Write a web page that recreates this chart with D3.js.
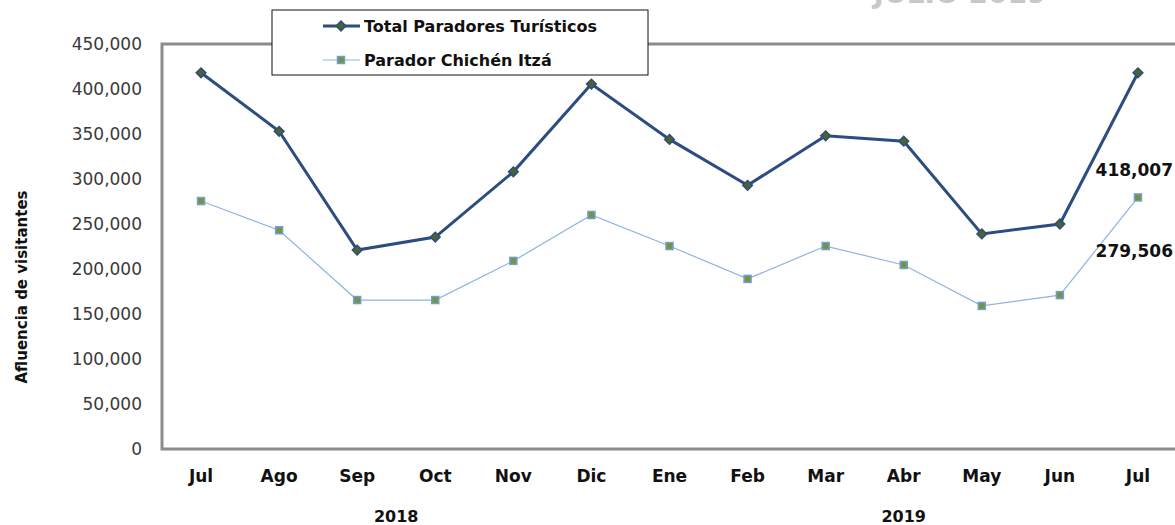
<!DOCTYPE html>
<html>
<head>
<meta charset="utf-8">
<script src="https://cdn.jsdelivr.net/npm/d3@7"></script>
<style>
  body { margin: 0; background: #fff; }
  text { font-family: "DejaVu Sans", sans-serif; }
</style>
</head>
<body>
<div class="chart"></div>
<script>
const months = ["Jul", "Ago", "Sep", "Oct", "Nov", "Dic", "Ene", "Feb", "Mar", "Abr", "May", "Jun", "Jul"];
const years = [{ label: "2018", from: 0, to: 5 }, { label: "2019", from: 6, to: 12 }];
const totalParadores = [418007, 353000, 221000, 235500, 308000, 405500, 344000, 293000, 348000, 342000, 239000, 250000, 418007];
const chichenItza = [275500, 243000, 165500, 165500, 209000, 260000, 225500, 189000, 225500, 204500, 159000, 171000, 279506];
const yTicks = [0, 50000, 100000, 150000, 200000, 250000, 300000, 350000, 400000, 450000];

const w = 1175, h = 525;
const plotLeft = 162, plotTop = 44, plotBottom = 449, plotRight = 1177;

const svg = d3.select(".chart")
    .append("svg")
    .attr("width", w)
    .attr("height", h);

const x = d3.scaleBand()
    .domain(d3.range(months.length))
    .range([plotLeft, plotRight]);

const y = d3.scaleLinear()
    .domain([0, 450000])
    .range([plotBottom, plotTop]);

const cx = i => x(i) + x.bandwidth() / 2;
const fmt = d3.format(",");

// title, mostly above the visible area
svg.append("text")
    .attr("x", 960).attr("y", 3)
    .attr("text-anchor", "middle")
    .style("font-size", "28px").style("font-weight", "bold")
    .style("fill", "#c8c8c8")
    .text("JULIO 2019");

// plot frame
svg.append("rect")
    .attr("x", plotLeft).attr("y", plotTop)
    .attr("width", plotRight - plotLeft).attr("height", plotBottom - plotTop)
    .style("fill", "none")
    .style("stroke", "#8c8c8c")
    .style("stroke-width", 3);

// y axis labels
const yAxis = d3.axisLeft(y).tickValues(yTicks).tickFormat(fmt).tickSize(0).tickPadding(20);
const ya = svg.append("g").attr("transform", `translate(${plotLeft},0)`).call(yAxis);
ya.select(".domain").remove();
ya.selectAll("text")
    .style("font-size", "17px")
    .style("fill", "#3a3a3a")
    .style("font-family", "'DejaVu Sans', sans-serif");

// month labels
const xAxis = d3.axisBottom(x).tickFormat(i => months[i]).tickSize(0).tickPadding(21);
const xa = svg.append("g").attr("transform", `translate(0,${plotBottom})`).call(xAxis);
xa.select(".domain").remove();
xa.selectAll("text")
    .style("font-size", "17px")
    .style("font-weight", "bold")
    .style("fill", "#111")
    .style("font-family", "'DejaVu Sans', sans-serif");

// year labels
svg.selectAll(".year")
    .data(years)
    .enter().append("text")
    .attr("class", "year")
    .attr("x", d => (cx(d.from) + cx(d.to)) / 2)
    .attr("y", 522)
    .attr("text-anchor", "middle")
    .style("font-size", "16px").style("font-weight", "bold").style("fill", "#111")
    .text(d => d.label);

// y axis title
svg.append("text")
    .attr("transform", "translate(27,287) rotate(-90)")
    .attr("text-anchor", "middle")
    .style("font-size", "15px").style("font-weight", "bold").style("fill", "#111")
    .text("Afluencia de visitantes");

const line = d3.line().x((d, i) => cx(i)).y(d => y(d));

// Chichén Itzá series
svg.append("path")
    .datum(chichenItza)
    .attr("d", line)
    .style("fill", "none")
    .style("stroke", "#8db4e2")
    .style("stroke-width", 1.2);

svg.selectAll(".sq")
    .data(chichenItza)
    .enter().append("rect")
    .attr("class", "sq")
    .attr("x", (d, i) => cx(i) - 3.5)
    .attr("y", d => y(d) - 3.5)
    .attr("width", 7).attr("height", 7)
    .style("fill", "#77933c")
    .style("stroke", "#6f9fd8")
    .style("stroke-width", 1.5);

// total series
svg.append("path")
    .datum(totalParadores)
    .attr("d", line)
    .style("fill", "none")
    .style("stroke", "#2c4d80")
    .style("stroke-width", 3);

svg.selectAll(".dia")
    .data(totalParadores)
    .enter().append("path")
    .attr("class", "dia")
    .attr("d", d3.symbol(d3.symbolDiamond2, 60))
    .attr("transform", (d, i) => `translate(${cx(i)},${y(d)})`)
    .style("fill", "#4f6228")
    .style("stroke", "#2c4d80")
    .style("stroke-width", 1.5);

// end value labels
const last = months.length - 1;
svg.append("text")
    .attr("x", 1173).attr("y", 176)
    .attr("text-anchor", "end")
    .style("font-size", "17px").style("font-weight", "bold").style("fill", "#111")
    .text(fmt(totalParadores[last]));
svg.append("text")
    .attr("x", 1173).attr("y", 257)
    .attr("text-anchor", "end")
    .style("font-size", "17px").style("font-weight", "bold").style("fill", "#111")
    .text(fmt(chichenItza[last]));

// legend
const lg = svg.append("g");
lg.append("rect")
    .attr("x", 272).attr("y", 10)
    .attr("width", 376).attr("height", 65)
    .style("fill", "#fff")
    .style("stroke", "#111")
    .style("stroke-width", 1);

lg.append("line")
    .attr("x1", 323).attr("x2", 360).attr("y1", 26).attr("y2", 26)
    .style("stroke", "#2c4d80").style("stroke-width", 3);
lg.append("path")
    .attr("d", d3.symbol(d3.symbolDiamond2, 60))
    .attr("transform", "translate(341,26)")
    .style("fill", "#4f6228").style("stroke", "#2c4d80").style("stroke-width", 1.5);
lg.append("text")
    .attr("x", 364).attr("y", 32)
    .style("font-size", "16px").style("font-weight", "bold").style("fill", "#111")
    .text("Total Paradores Turísticos");

lg.append("line")
    .attr("x1", 323).attr("x2", 360).attr("y1", 60).attr("y2", 60)
    .style("stroke", "#8db4e2").style("stroke-width", 1.2);
lg.append("rect")
    .attr("x", 337.5).attr("y", 56.5).attr("width", 7).attr("height", 7)
    .style("fill", "#77933c").style("stroke", "#6f9fd8").style("stroke-width", 1.5);
lg.append("text")
    .attr("x", 364).attr("y", 66)
    .style("font-size", "16px").style("font-weight", "bold").style("fill", "#111")
    .text("Parador Chichén Itzá");
</script>
</body>
</html>
